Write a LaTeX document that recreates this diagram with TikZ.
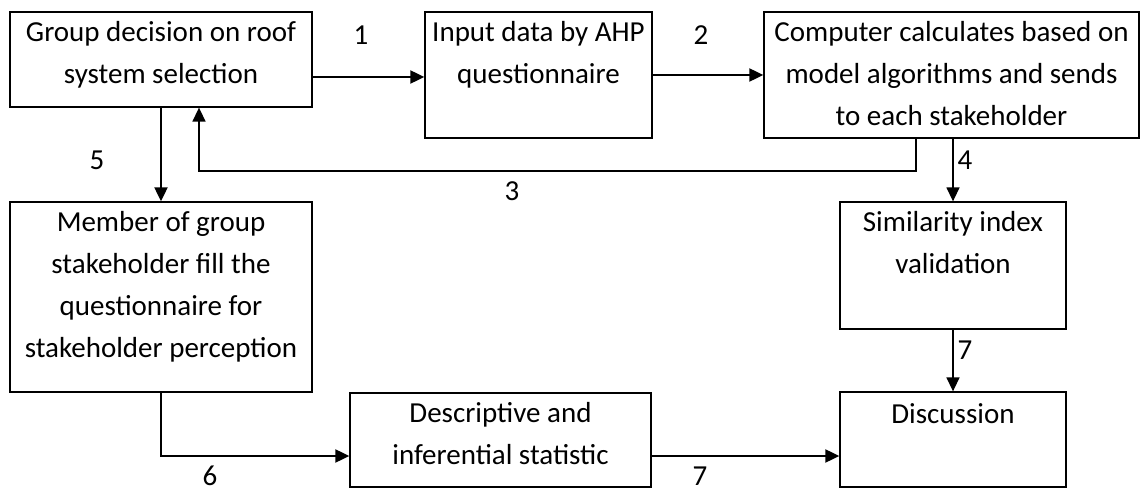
\documentclass[tikz,border=0pt]{standalone}
\usepackage{fontspec}
\setmainfont{Carlito}
\usetikzlibrary{arrows.meta}
\tikzset{
  box/.style={draw, line width=1.3pt, inner sep=0pt},
  txt/.style={anchor=north, align=center, inner sep=0pt, font=\fontsize{29}{42}\selectfont},
  num/.style={inner sep=0pt, font=\fontsize{29}{42}\selectfont},
  arr/.style={line width=2pt, -{Triangle[length=14pt,width=13pt]}},
  thinarr/.style={line width=1.5pt, -{Triangle[length=14pt,width=13pt]}},
}
\begin{document}
\begin{tikzpicture}[x=1pt, y=-1pt]
\useasboundingbox (0,0) rectangle (1141,489);
% boxes
\node[box, minimum width=302pt, minimum height=95pt] (A) at (161,59.5) {};
\node[box, minimum width=227pt, minimum height=126pt] (B) at (538.5,75) {};
\node[box, minimum width=375pt, minimum height=126pt] (C) at (951.5,75) {};
\node[box, minimum width=226pt, minimum height=127pt] (D) at (953,265.5) {};
\node[box, minimum width=226pt, minimum height=95pt] (E) at (953,439.5) {};
\node[box, minimum width=302pt, minimum height=190pt] (F) at (161,297) {};
\node[box, minimum width=301pt, minimum height=94pt] (G) at (500.5,440) {};
% texts
\node[txt] (At) at ([yshift=-1pt]A.north) {\strut Group decision on roof\\\strut system selection};
\node[txt] (Bt) at ([yshift=-1pt]B.north) {\strut Input data by AHP\\\strut questionnaire};
\node[txt] (Ct) at ([yshift=-1pt]C.north) {\strut Computer calculates based on\\\strut model algorithms and sends\\\strut to each stakeholder};
\node[txt] (Dt) at ([yshift=-1pt]D.north) {\strut Similarity index\\\strut validation};
\node[txt] (Et) at ([yshift=-3pt]E.north) {\strut Discussion};
\node[txt] (Ft) at ([yshift=-1pt]F.north) {\strut Member of group\\\strut stakeholder fill the\\\strut questionnaire for\\\strut stakeholder perception};
\node[txt] (Gt) at ([yshift=-1pt]G.north) {\strut Descriptive and\\\strut inferential statistic};
% connectors
\coordinate (k1) at (0,77);
\draw[arr] (A.east |- k1) -- (B.west |- k1);
\draw[arr] (B.east) -- (C.west);
\coordinate (k3a) at (916,171);
\coordinate (k3b) at (199,171);
\draw[thinarr] (C.south -| k3a) -- (k3a) -- (k3b) -- (A.south -| k3b);
\draw[thinarr] (C.south -| D.north) -- (D.north);
\draw[thinarr] (D.south) -- (E.north);
\draw[arr] (A.south) -- (F.north);
\coordinate (k6) at (161,456);
\draw[arr] (F.south) -- (k6) -- (G.west |- k6);
\draw[arr] (G.east |- k6) -- (E.west |- k6);
% labels
\node[num] (n1) at (361,35) {1};
\node[num] (n2) at (701,35) {2};
\node[num] (n3) at (512,191) {3};
\node[num] (n4) at (965,160) {4};
\node[num] (n5) at (97,160) {5};
\node[num] (n6) at (210,476) {6};
\node[num] (n7a) at (700,476) {7};
\node[num] (n7b) at (965,350) {7};
\end{tikzpicture}
\end{document}
